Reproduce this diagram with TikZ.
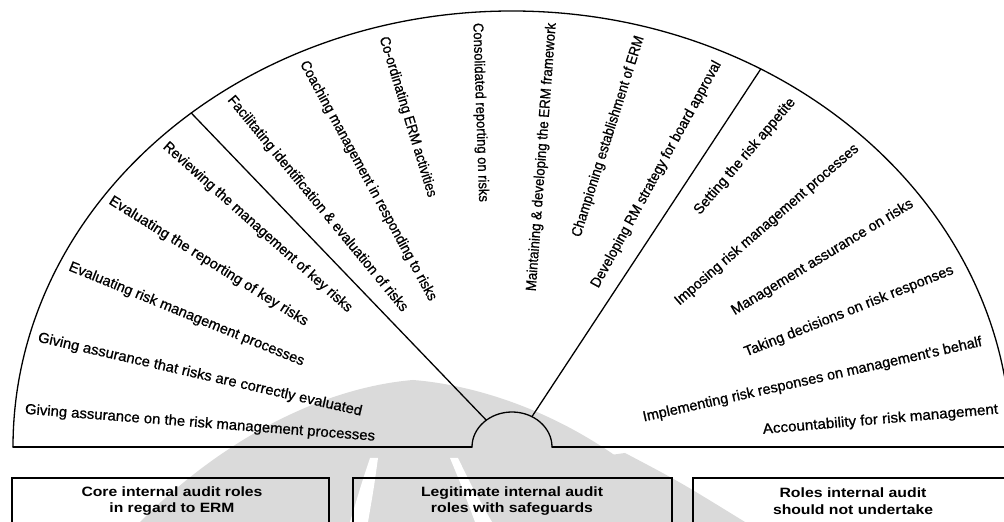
\documentclass[tikz,border=0pt]{standalone}
\usepackage{fontspec}
\setmainfont{Liberation Sans}
\newfontfamily\lblfont[FakeBold=0.8]{Liberation Sans}
\usepackage{graphicx}
\usetikzlibrary{calc}
\definecolor{wm}{HTML}{DADADA}
\tikzset{
  lbl/.style={inner sep=0pt, font=\lblfont\fontsize{14.5}{16}\selectfont},
  rim/.style={line width=1.3pt, line cap=round},
  rolebox/.style={line width=1.3pt},
  boxtext/.style={align=center, inner sep=0pt, font=\fontsize{13.5}{16.5}\selectfont\bfseries},
}
\newcommand{\fitlbl}[2]{\resizebox{#1pt}{\height}{#2}}
\begin{document}
\begin{tikzpicture}[x=1pt,y=1pt]
\useasboundingbox (0,0) rectangle (1004,522);
\clip (0,0) rectangle (1004,522);
\fill[white] (0,0) rectangle (1004,522);
% faint watermark
\fill[wm] (140,0) .. controls (230,90) and (330,135) .. (413,142) .. controls (500,135) and (610,90) .. (690,0) -- cycle;
\fill[white] (378,64) -- (370,64) .. controls (362,40) .. (350,0) -- (368,0) .. controls (374,35) .. (378,64) -- cycle;
\fill[white] (450,64) -- (458,64) .. controls (472,35) .. (492,0) -- (475,0) .. controls (462,35) .. (450,64) -- cycle;
\fill[wm] (597,65) -- (625,69) .. controls (680,40) .. (745,0) -- (690,0) .. controls (650,35) .. (597,65) -- cycle;
% fan outline
\coordinate (C) at (512,75);
\coordinate (L) at (13,75);
\coordinate (Li) at (472,75);
\coordinate (Ri) at (552,75);
\coordinate (R) at (1004,75);
\draw[rim] (L) -- (Li);
\draw[rim] (Ri) -- (R);
\draw[rim] (L) arc[start angle=180,end angle=0,x radius=499,y radius=436];
\draw[rim] (Li) arc[start angle=180,end angle=0,x radius=40,y radius=35];
\coordinate (d1a) at ($(C)+(130:40 and 35)$);
\coordinate (d1b) at ($(C)+(130:499 and 436)$);
\coordinate (d2a) at ($(C)+(60.1:40 and 35)$);
\coordinate (d2b) at ($(C)+(60.1:499 and 436)$);
\draw[rim] (d1a) -- (d1b);
\draw[rim] (d2a) -- (d2b);
% core roles
\node[lbl, rotate=-4.4]  (l1) at (200,98.5)   {\fitlbl{351}{Giving assurance on the risk management processes}};
\node[lbl, rotate=-12.9] (l2) at (200,147)    {\fitlbl{332}{Giving assurance that risks are correctly evaluated}};
\node[lbl, rotate=-22.2] (l3) at (186.5,207.5){\fitlbl{253}{Evaluating risk management processes}};
\node[lbl, rotate=-32.0] (l4) at (208.5,260.5){\fitlbl{232}{Evaluating the reporting of key risks}};
\node[lbl, rotate=-41.7] (l5) at (257.5,294.5){\fitlbl{248}{Reviewing the management of key risks}};
% legitimate roles
\node[lbl, rotate=-50.5] (l6) at (317.5,318)  {\fitlbl{275}{Facilitating identification \& evaluation of risks}};
\node[lbl, rotate=-61.4] (l7) at (368,341)    {\fitlbl{271}{Coaching management in responding to risks}};
\node[lbl, rotate=-73.0] (l8) at (407.5,405)  {\fitlbl{167}{Co-ordinating ERM activities}};
\node[lbl, rotate=-88.1] (l9) at (480,409.5)  {\fitlbl{179}{Consolidated reporting on risks}};
\node[lbl, rotate=85.7]  (l10) at (542,365)   {\fitlbl{269}{Maintaining \& developing the ERM framework}};
\node[lbl, rotate=72.4]  (l11) at (608.5,385.5){\fitlbl{210}{Championing establishment of ERM}};
\node[lbl, rotate=61.3]  (l12) at (656.5,347.5){\fitlbl{256}{Developing RM strategy for board approval}};
% roles not to undertake
\node[lbl, rotate=49.6]  (l13) at (745,365.5) {\fitlbl{148}{Setting  the risk appetite}};
\node[lbl, rotate=40.9]  (l14) at (767,297)   {\fitlbl{238}{Imposing risk management processes}};
\node[lbl, rotate=31.3]  (l15) at (822.5,264.5){\fitlbl{210}{Management assurance on risks}};
\node[lbl, rotate=21.8]  (l16) at (849,210.5) {\fitlbl{224}{Taking decisions on risk responses}};
\node[lbl, rotate=12.6]  (l17) at (812.5,142) {\fitlbl{347}{Implementing risk responses on management's behalf}};
\node[lbl, rotate=4.9]   (l18) at (880.5,102) {\fitlbl{236}{Accountability for risk management}};
% boxes
\draw[rolebox] (12,44) rectangle (329,-20);
\draw[rolebox] (353,44) rectangle (672,-20);
\draw[rolebox] (693,44) rectangle (1020,-20);
\node[boxtext] (b1) at (172,21) {\resizebox{181pt}{\height}{Core internal audit roles}\\\resizebox{125pt}{\height}{in regard to ERM}};
\node[boxtext] (b2) at (512,21) {\resizebox{182pt}{\height}{Legitimate internal audit}\\\resizebox{162pt}{\height}{roles with safeguards}};
\node[boxtext] (b3) at (853,21) {\resizebox{147pt}{\height}{Roles internal audit}\\\resizebox{160pt}{\height}{should not undertake}};
\end{tikzpicture}
\end{document}
